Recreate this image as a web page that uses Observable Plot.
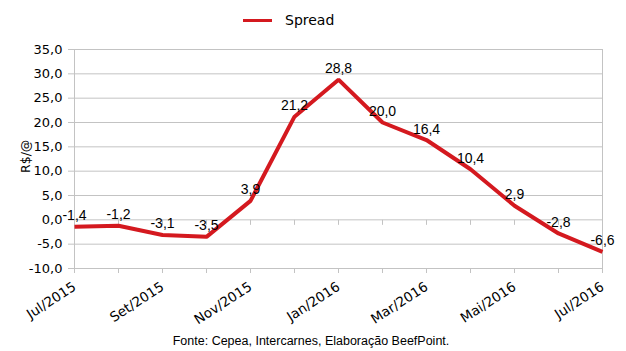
<!DOCTYPE html>
<html>
<head>
<meta charset="utf-8">
<script src="https://cdn.jsdelivr.net/npm/d3@7"></script>
<script src="https://cdn.jsdelivr.net/npm/@observablehq/plot@0.6"></script>
<style>
  html, body { margin: 0; padding: 0; background: #fff; width: 626px; height: 351px; overflow: hidden; }
  #legend { position: relative; height: 40px; width: 626px; }
  #legend .swatch { position: absolute; left: 243px; top: 19px; width: 29px; height: 3px; background: #d4191f; }
  #legend .label { position: absolute; left: 285px; top: 12px; font: 14px "DejaVu Sans", sans-serif; color: #000; }
  #caption { position: relative; height: 21px; width: 626px; text-align: center; font: 12.5px "Liberation Sans", Arial, sans-serif; color: #000; line-height: 23px; padding-right: 4px; box-sizing: border-box; }
  svg { display: block; }
</style>
</head>
<body>
<div id="legend"><div class="swatch"></div><div class="label">Spread</div></div>
<div id="chart"></div>
<div id="caption">Fonte: Cepea, Intercarnes, Elaboração BeefPoint.</div>
<script>
const months = ["Jul/2015","Ago/2015","Set/2015","Out/2015","Nov/2015","Dez/2015","Jan/2016","Fev/2016","Mar/2016","Abr/2016","Mai/2016","Jun/2016","Jul/2016"];
const spread = [-1.4, -1.2, -3.1, -3.5, 3.9, 21.2, 28.8, 20.0, 16.4, 10.4, 2.9, -2.8, -6.6];
const yTicks = [-10, -5, 0, 5, 10, 15, 20, 25, 30, 35];
const labeledMonths = months.filter((d, i) => i % 2 === 0);
const seriesName = "Spread";
const yLabel = "R$/@";

const data = months.map((m, i) => ({month: m, value: spread[i]}));
const fmt = v => v.toFixed(1).replace(".", ",");
const grid = "#c3c3c3";
const red = "#d4191f";

const tickDown = { draw(context) { context.moveTo(0, 0); context.lineTo(0, 5); } };

const chart = Plot.plot({
  width: 626,
  height: 290,
  marginTop: 9,
  marginBottom: 62,
  marginLeft: 73,
  marginRight: 23,
  style: { fontFamily: "DejaVu Sans, sans-serif", fontSize: "13px", color: "#000", background: "#fff" },
  x: { type: "point", domain: months, padding: 0 },
  y: { domain: [-10, 35] },
  marks: [
    Plot.ruleY(yTicks, { stroke: grid, strokeWidth: 1 }),
    Plot.ruleX([months[0], months[months.length - 1]], { y1: -10, y2: 35, stroke: grid, strokeWidth: 1 }),
    Plot.dot(months, { x: d => d, y: 0, symbol: tickDown, stroke: grid, strokeWidth: 1, fill: "none" }),
    Plot.axisY({ ticks: yTicks, tickSize: 5, stroke: grid, fill: "#000", tickPadding: 6, tickFormat: fmt, label: null, fontSize: 13 }),
    Plot.axisX({ ticks: months, tickSize: 5, stroke: grid, tickFormat: () => "", label: null }),
    Plot.axisX({ ticks: labeledMonths, tickSize: 0, tickPadding: 17, tickRotate: -33, fill: "#000", label: null, fontSize: 13.5 }),
    Plot.text([yLabel], { frameAnchor: "left", dx: -48, dy: 14, rotate: -90, fontSize: 12.5, fill: "#000" }),
    Plot.line(data, { x: "month", y: "value", stroke: red, strokeWidth: 4, strokeLinejoin: "miter", strokeLinecap: "butt" }),
    Plot.text(data, { x: "month", y: "value", text: d => fmt(d.value), dy: -11, fontSize: 14, fontFamily: "Liberation Sans, Arial, sans-serif", fill: "#000" })
  ]
});
document.getElementById("chart").appendChild(chart);
</script>
</body>
</html>
